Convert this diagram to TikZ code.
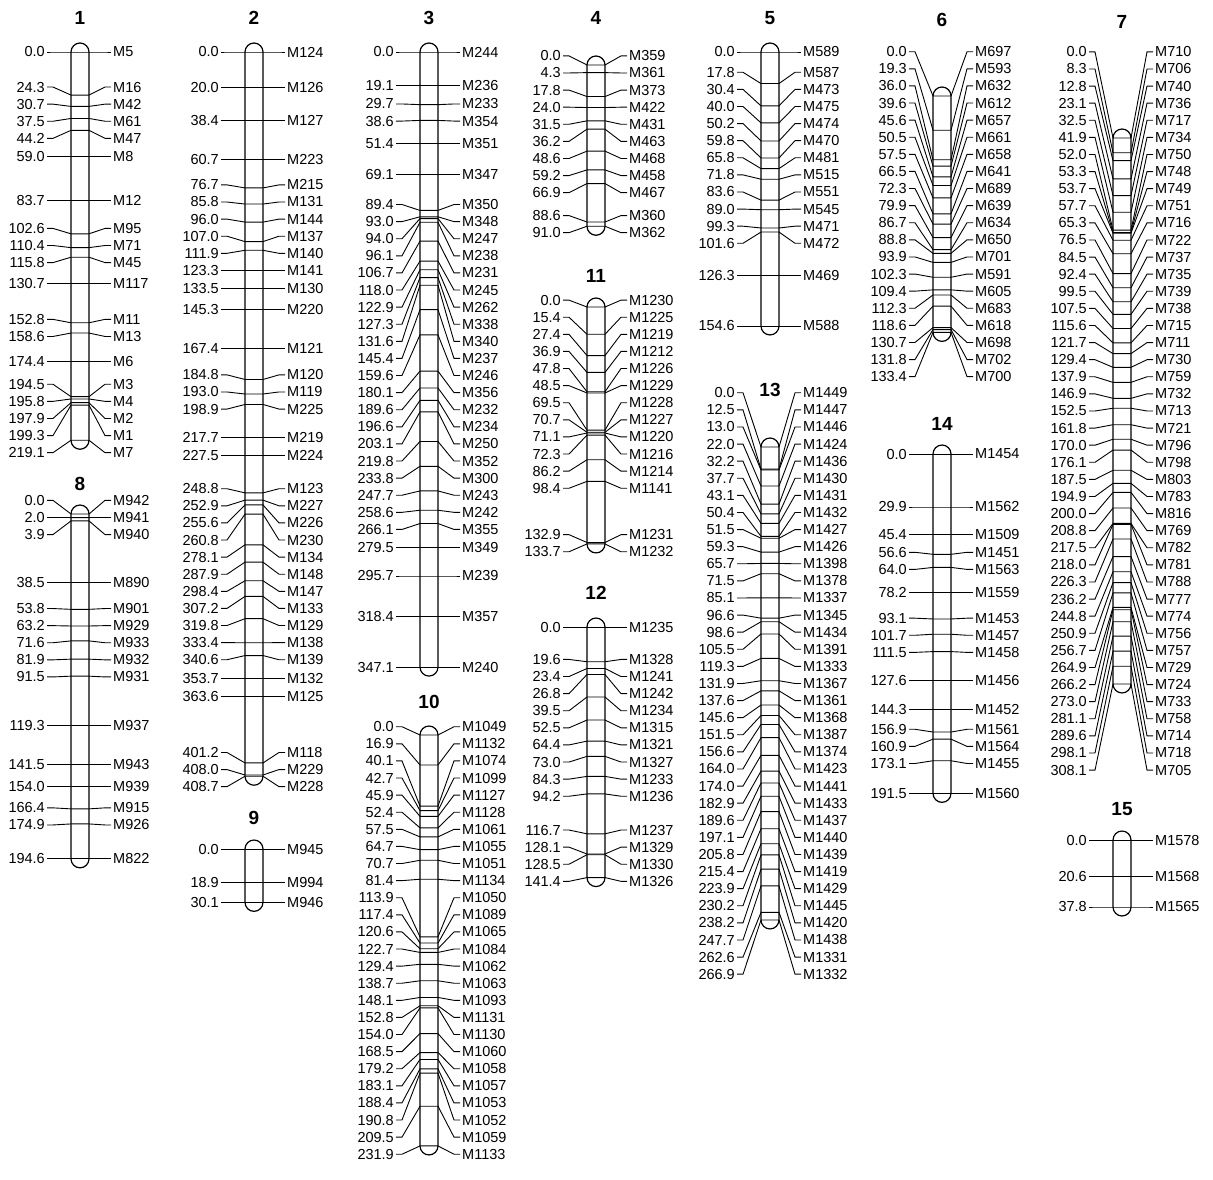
\documentclass[tikz,border=0pt]{standalone}
\usepackage{fontspec}
\setmainfont{Liberation Sans}

\newcount\lgn
\newcount\lgm
\def\lgpitch{17.1}
\def\lgscale{1.772}

\tikzset{
  chrom/.style={line width=1.2pt, rounded corners=9pt},
  conn/.style={line width=0.9pt},
  numlab/.style={inner sep=0pt, font=\fontsize{14.5}{16}\selectfont},
  mklab/.style={inner sep=0pt, font=\fontsize{14.5}{16}\selectfont},
  lgtitle/.style={inner sep=0pt, font=\fontsize{19}{21}\selectfont\bfseries},
}

% centre and size of label cluster #1
\def\lgcentre#1{%
  \edef\lga{\csname lg@cf@#1\endcsname}%
  \edef\lgb{\csname lg@cl@#1\endcsname}%
  \pgfmathsetmacro\lgc{(\csname lg@t@\lga\endcsname+\csname lg@t@\lgb\endcsname)/2}%
  \pgfmathtruncatemacro\lgk{\lgb-\lga}}

% overlap of the labels of clusters #1 and #1+1
\def\lgover#1{%
  \lgcentre{#1}\let\lgca\lgc\let\lgka\lgk
  \lgcentre{\the\numexpr#1+1\relax}%
  \pgfmathsetmacro\lgd{\lgca+\lgka*\lgpitch/2+\lgpitch-\lgc+\lgk*\lgpitch/2}}

% join cluster #1 with the next one
\def\lgjoin#1{%
  \edef\lgji{#1}%
  \edef\lgjk{\the\numexpr#1+1\relax}%
  \expandafter\xdef\csname lg@cl@\lgji\endcsname{\csname lg@cl@\lgjk\endcsname}%
  \ifnum\lgjk<\lgm
    \edef\lgje{\the\numexpr\lgm-1\relax}%
    \foreach \lgq in {\lgjk,...,\lgje}{%
      \edef\lgqq{\the\numexpr\lgq+1\relax}%
      \expandafter\xdef\csname lg@cf@\lgq\endcsname{\csname lg@cf@\lgqq\endcsname}%
      \expandafter\xdef\csname lg@cl@\lgq\endcsname{\csname lg@cl@\lgqq\endcsname}}%
  \fi
  \global\advance\lgm by -1\relax}

% merge the most overlapping pair until no labels overlap
\def\lgsettle{%
  \gdef\lgbest{0.01}\gdef\lgbk{0}%
  \ifnum\lgm>1
    \edef\lgmm{\the\numexpr\lgm-1\relax}%
    \foreach \lgq in {1,...,\lgmm}{%
      \lgover{\lgq}%
      \ifdim\lgd pt>\lgbest pt \xdef\lgbest{\lgd}\xdef\lgbk{\lgq}\fi}%
  \fi
  \ifnum\lgbk>0
    \lgjoin{\lgbk}%
    \expandafter\lgsettle
  \fi}

% #1 group, #2 x of bar, #3 y of 0 cM, #4 y of title, #5 cM/marker list
\newcommand\linkgroup[5]{%
  \global\lgn=0\relax
  \foreach \lgpos/\lgname in {#5}{%
    \global\advance\lgn by 1
    \pgfmathsetmacro\lgt{#3+\lgpos*\lgscale}%
    \expandafter\xdef\csname lg@t@\the\lgn\endcsname{\lgt}%
    \expandafter\xdef\csname lg@p@\the\lgn\endcsname{\lgpos}%
    \expandafter\xdef\csname lg@n@\the\lgn\endcsname{\lgname}%
    \expandafter\xdef\csname lg@cf@\the\lgn\endcsname{\the\lgn}%
    \expandafter\xdef\csname lg@cl@\the\lgn\endcsname{\the\lgn}}%
  \global\lgm=\lgn
  \lgsettle
  \pgfmathsetmacro\lgtop{#3-9}%
  \pgfmathsetmacro\lgbot{\csname lg@t@\the\lgn\endcsname+9}%
  \draw[chrom] (#2-9,\lgtop) rectangle (#2+9,\lgbot);
  \node[lgtitle] (title-#1) at (#2,#4) {#1};
  \edef\lgmm{\the\lgm}%
  \foreach \k in {1,...,\lgmm}{%
    \lgcentre{\k}%
    \foreach \j in {\lga,...,\lgb}{%
      \pgfmathsetmacro\lgy{\lgc+(\j-\lga-\lgk/2)*\lgpitch}%
      \edef\lgtk{\csname lg@t@\j\endcsname}%
      \node[numlab, anchor=east] (num-#1-\j) at (#2-35,\lgy) {\csname lg@p@\j\endcsname};
      \node[mklab, anchor=west] (mk-#1-\j) at (#2+33,\lgy) {\csname lg@n@\j\endcsname};
      \draw[conn] ([xshift=2]num-#1-\j.east) -- ++(6,0) -- (#2-9,\lgtk)
        -- (#2+9,\lgtk) -- ([xshift=-8]mk-#1-\j.west) -- ([xshift=-2]mk-#1-\j.west);
    }}}

\begin{document}
\begin{tikzpicture}[x=1pt, y=-1pt]
  \useasboundingbox (0,0) rectangle (1213,1179);

  \linkgroup{1}{80}{52}{18}{0.0/M5, 24.3/M16, 30.7/M42, 37.5/M61, 44.2/M47,
    59.0/M8, 83.7/M12, 102.6/M95, 110.4/M71, 115.8/M45, 130.7/M117,
    152.8/M11, 158.6/M13, 174.4/M6, 194.5/M3, 195.8/M4, 197.9/M2,
    199.3/M1, 219.1/M7}
  \linkgroup{8}{80}{514}{484}{0.0/M942, 2.0/M941, 3.9/M940, 38.5/M890,
    53.8/M901, 63.2/M929, 71.6/M933, 81.9/M932, 91.5/M931, 119.3/M937,
    141.5/M943, 154.0/M939, 166.4/M915, 174.9/M926, 194.6/M822}

  \linkgroup{2}{254}{52}{18}{0.0/M124, 20.0/M126, 38.4/M127, 60.7/M223,
    76.7/M215, 85.8/M131, 96.0/M144, 107.0/M137, 111.9/M140, 123.3/M141,
    133.5/M130, 145.3/M220, 167.4/M121, 184.8/M120, 193.0/M119,
    198.9/M225, 217.7/M219, 227.5/M224, 248.8/M123, 252.9/M227,
    255.6/M226, 260.8/M230, 278.1/M134, 287.9/M148, 298.4/M147,
    307.2/M133, 319.8/M129, 333.4/M138, 340.6/M139, 353.7/M132,
    363.6/M125, 401.2/M118, 408.0/M229, 408.7/M228}
  \linkgroup{9}{254}{849}{818}{0.0/M945, 18.9/M994, 30.1/M946}

  \linkgroup{3}{429}{52}{18}{0.0/M244, 19.1/M236, 29.7/M233, 38.6/M354,
    51.4/M351, 69.1/M347, 89.4/M350, 93.0/M348, 94.0/M247, 96.1/M238,
    106.7/M231, 118.0/M245, 122.9/M262, 127.3/M338, 131.6/M340,
    145.4/M237, 159.6/M246, 180.1/M356, 189.6/M232, 196.6/M234,
    203.1/M250, 219.8/M352, 233.8/M300, 247.7/M243, 258.6/M242,
    266.1/M355, 279.5/M349, 295.7/M239, 318.4/M357, 347.1/M240}
  \linkgroup{10}{429}{735}{702}{0.0/M1049, 16.9/M1132, 40.1/M1074,
    42.7/M1099, 45.9/M1127, 52.4/M1128, 57.5/M1061, 64.7/M1055,
    70.7/M1051, 81.4/M1134, 113.9/M1050, 117.4/M1089, 120.6/M1065,
    122.7/M1084, 129.4/M1062, 138.7/M1063, 148.1/M1093, 152.8/M1131,
    154.0/M1130, 168.5/M1060, 179.2/M1058, 183.1/M1057, 188.4/M1053,
    190.8/M1052, 209.5/M1059, 231.9/M1133}

  \linkgroup{4}{596}{65}{18}{0.0/M359, 4.3/M361, 17.8/M373, 24.0/M422,
    31.5/M431, 36.2/M463, 48.6/M468, 59.2/M458, 66.9/M467, 88.6/M360,
    91.0/M362}
  \linkgroup{11}{596}{307}{276}{0.0/M1230, 15.4/M1225, 27.4/M1219,
    36.9/M1212, 47.8/M1226, 48.5/M1229, 69.5/M1228, 70.7/M1227,
    71.1/M1220, 72.3/M1216, 86.2/M1214, 98.4/M1141, 132.9/M1231,
    133.7/M1232}
  \linkgroup{12}{596}{627}{593}{0.0/M1235, 19.6/M1328, 23.4/M1241,
    26.8/M1242, 39.5/M1234, 52.5/M1315, 64.4/M1321, 73.0/M1327,
    84.3/M1233, 94.2/M1236, 116.7/M1237, 128.1/M1329, 128.5/M1330,
    141.4/M1326}

  \linkgroup{5}{770}{52}{18}{0.0/M589, 17.8/M587, 30.4/M473, 40.0/M475,
    50.2/M474, 59.8/M470, 65.8/M481, 71.8/M515, 83.6/M551, 89.0/M545,
    99.3/M471, 101.6/M472, 126.3/M469, 154.6/M588}
  \linkgroup{13}{770}{447}{390}{0.0/M1449, 12.5/M1447, 13.0/M1446,
    22.0/M1424, 32.2/M1436, 37.7/M1430, 43.1/M1431, 50.4/M1432,
    51.5/M1427, 59.3/M1426, 65.7/M1398, 71.5/M1378, 85.1/M1337,
    96.6/M1345, 98.6/M1434, 105.5/M1391, 119.3/M1333, 131.9/M1367,
    137.6/M1361, 145.6/M1368, 151.5/M1387, 156.6/M1374, 164.0/M1423,
    174.0/M1441, 182.9/M1433, 189.6/M1437, 197.1/M1440, 205.8/M1439,
    215.4/M1419, 223.9/M1429, 230.2/M1445, 238.2/M1420, 247.7/M1438,
    262.6/M1331, 266.9/M1332}

  \linkgroup{6}{942}{96}{20}{0.0/M697, 19.3/M593, 36.0/M632, 39.6/M612,
    45.6/M657, 50.5/M661, 57.5/M658, 66.5/M641, 72.3/M689, 79.9/M639,
    86.7/M634, 88.8/M650, 93.9/M701, 102.3/M591, 109.4/M605, 112.3/M683,
    118.6/M618, 130.7/M698, 131.8/M702, 133.4/M700}
  \linkgroup{14}{942}{454}{424}{0.0/M1454, 29.9/M1562, 45.4/M1509,
    56.6/M1451, 64.0/M1563, 78.2/M1559, 93.1/M1453, 101.7/M1457,
    111.5/M1458, 127.6/M1456, 144.3/M1452, 156.9/M1561, 160.9/M1564,
    173.1/M1455, 191.5/M1560}

  \linkgroup{7}{1122}{138}{22}{0.0/M710, 8.3/M706, 12.8/M740, 23.1/M736,
    32.5/M717, 41.9/M734, 52.0/M750, 53.3/M748, 53.7/M749, 57.7/M751,
    65.3/M716, 76.5/M722, 84.5/M737, 92.4/M735, 99.5/M739, 107.5/M738,
    115.6/M715, 121.7/M711, 129.4/M730, 137.9/M759, 146.9/M732,
    152.5/M713, 161.8/M721, 170.0/M796, 176.1/M798, 187.5/M803,
    194.9/M783, 200.0/M816, 208.8/M769, 217.5/M782, 218.0/M781,
    226.3/M788, 236.2/M777, 244.8/M774, 250.9/M756, 256.7/M757,
    264.9/M729, 266.2/M724, 273.0/M733, 281.1/M758, 289.6/M714,
    298.1/M718, 308.1/M705}
  \linkgroup{15}{1122}{840}{809}{0.0/M1578, 20.6/M1568, 37.8/M1565}
\end{tikzpicture}
\end{document}
